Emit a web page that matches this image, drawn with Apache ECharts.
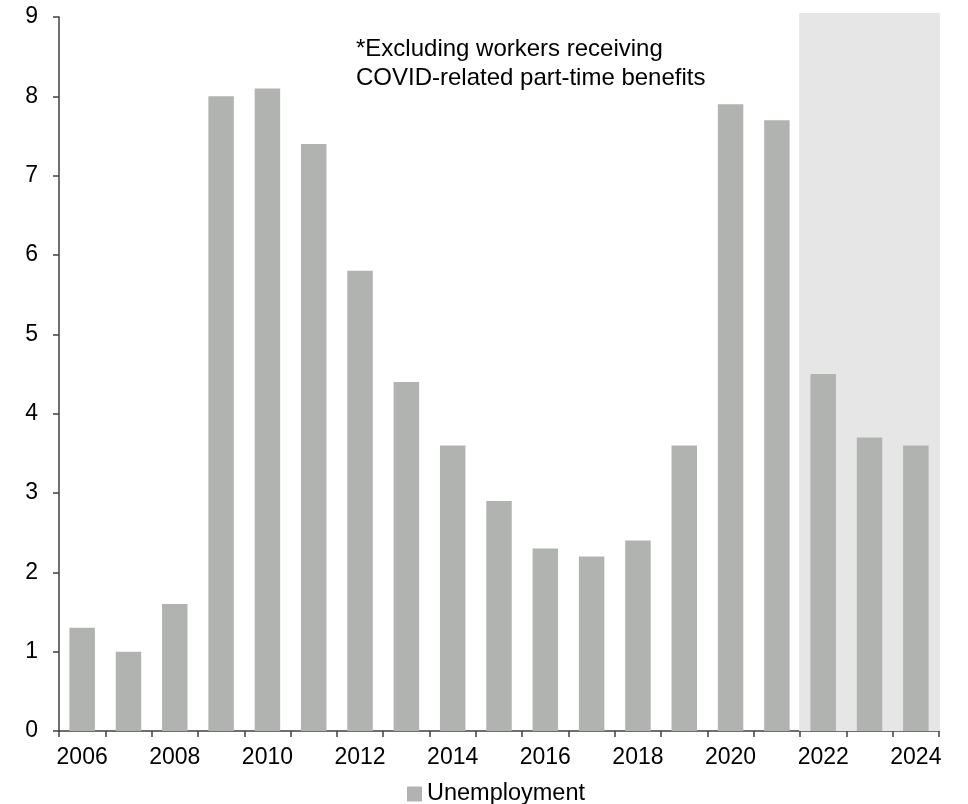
<!DOCTYPE html>
<html>
<head>
<meta charset="utf-8">
<script src="https://cdn.jsdelivr.net/npm/echarts@6/dist/echarts.min.js"></script>
<style>html,body{margin:0;padding:0;background:#fff}#c{width:968px;height:804px}</style>
</head>
<body>
<div id="c"></div>
<script>
const years = ['2006','2007','2008','2009','2010','2011','2012','2013','2014','2015','2016','2017','2018','2019','2020','2021','2022','2023','2024'];
const unemployment = [1.3,1.0,1.6,8.0,8.1,7.4,5.8,4.4,3.6,2.9,2.3,2.2,2.4,3.6,7.9,7.7,4.5,3.7,3.6];
const shadedYears = ['2022','2023','2024'];
const shadeTop = 9.05;
const yTicks = [0,1,2,3,4,5,6,7,8,9];
const noteLines = ['*Excluding workers receiving','COVID-related part-time benefits'];

const FONT = "'Liberation Sans', Arial, sans-serif";
const shadeData = years.map(y => shadedYears.includes(y) ? shadeTop : null);

const chart = echarts.init(document.getElementById('c'), null, {renderer:'canvas'});
chart.setOption({
  animation: false,
  backgroundColor: '#ffffff',
  textStyle: {fontFamily: FONT},
  grid: {left: 59, right: 29, top: 17, bottom: 73, containLabel: false},
  legend: {
    data: ['Unemployment'], top: 777, left: 402,
    icon: 'rect', itemWidth: 15, itemHeight: 15, itemGap: 10,
    textStyle: {fontSize: 23.5, color: '#000', fontFamily: FONT}
  },
  xAxis: [{
    type: 'category', data: years, boundaryGap: true,
    axisLine: {show: true, lineStyle: {color: '#404040', width: 1.5}},
    axisTick: {show: true, interval: 0, length: 6, lineStyle: {color: '#404040', width: 1.5}},
    axisLabel: {interval: 1, fontSize: 23, color: '#000', margin: 15, fontFamily: FONT}
  },{
    type: 'category', data: years, boundaryGap: true, show: false
  }],
  yAxis: {
    type: 'value', min: yTicks[0], max: yTicks[yTicks.length-1], interval: 1,
    axisLine: {show: true, lineStyle: {color: '#404040', width: 1.5}},
    axisTick: {show: true, length: 6, lineStyle: {color: '#404040', width: 1.5}},
    splitLine: {show: false},
    axisLabel: {fontSize: 23, color: '#000', margin: 21, fontFamily: FONT}
  },
  graphic: [{
    type: 'text', left: 356, top: 35, z: 10,
    style: {text: noteLines.join('\n'), font: '24px ' + FONT, fill: '#000', lineHeight: 29}
  }],
  series: [{
    name: 'shade', type: 'bar', xAxisIndex: 1, data: shadeData,
    barCategoryGap: '0%', barWidth: '104%', clip: false, z: 1, silent: true,
    itemStyle: {color: '#e6e6e6'}
  },{
    name: 'Unemployment', type: 'bar', xAxisIndex: 0, data: unemployment,
    barCategoryGap: '45%', z: 3,
    itemStyle: {color: '#b1b3b0'}
  }]
});
</script>
</body>
</html>
